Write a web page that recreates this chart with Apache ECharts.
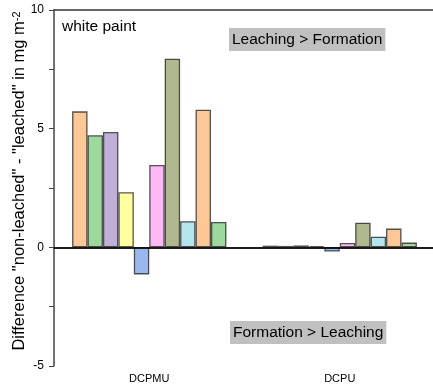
<!DOCTYPE html>
<html><head><meta charset="utf-8">
<script src="https://cdn.jsdelivr.net/npm/echarts@6/dist/echarts.min.js"></script>
<style>html,body{margin:0;padding:0;background:#fff}#c{width:433px;height:391px}</style>
</head><body><div id="c"></div>
<script>
const categories = ['DCPMU', 'DCPU'];
const s1 = [5.73, 0.07];
const s2 = [4.72, 0.06];
const s3 = [4.86, 0.08];
const s4 = [2.32, 0.05];
const s5 = [-1.14, -0.18];
const s6 = [3.47, 0.18];
const s7 = [7.95, 1.04];
const s8 = [1.10, 0.45];
const s9 = [5.80, 0.79];
const s10 = [1.07, 0.20];
const seriesValues = [s1, s2, s3, s4, s5, s6, s7, s8, s9, s10];
const colors = ['#FDC896', '#9DD89D', '#C0B0D8', '#FFFFA0', '#99B8F0', '#FDB8F8', '#B0B890', '#B4E4EC', '#FDC896', '#9DD89D'];
const yTicks = { min: -5, max: 10, interval: 5 };
const FONT = 'Liberation Sans, Arial, sans-serif';

const chart = echarts.init(document.getElementById('c'), null, { renderer: 'canvas' });
const series = seriesValues.map((vals, i) => ({
  type: 'bar',
  data: vals,
  barGap: '0%',
  barCategoryGap: '19%',
  itemStyle: { color: colors[i], borderColor: 'rgba(30,30,30,0.75)', borderWidth: 1.3 },
  markLine: i === 0 ? {
    silent: true, symbol: 'none', label: { show: false },
    lineStyle: { color: '#000', width: 1.5, type: 'solid' },
    data: [{ yAxis: 0 }]
  } : undefined
}));

chart.setOption({
  animation: false,
  grid: { left: 54, right: -2, top: 10, bottom: 25, containLabel: false, outerBoundsMode: 'none' },
  xAxis: [{
    type: 'category', data: categories, position: 'bottom',
    axisLine: { lineStyle: { color: '#444', width: 1.5 } },
    axisTick: { show: false },
    axisLabel: { color: '#000', fontSize: 11, fontFamily: FONT, margin: 7 }
  }, {
    type: 'category', data: categories, position: 'top',
    axisLine: { lineStyle: { color: '#333', width: 1.5 } },
    axisTick: { show: false }, axisLabel: { show: false }
  }],
  yAxis: {
    type: 'value', min: yTicks.min, max: yTicks.max, interval: yTicks.interval,
    axisLine: { show: true, lineStyle: { color: '#444', width: 1.5 } },
    axisTick: { show: true, length: 5, lineStyle: { color: '#444' } },
    minorTick: { show: true, splitNumber: 2, length: 5, lineStyle: { color: '#444' } },
    splitLine: { show: false },
    axisLabel: { color: '#000', fontSize: 12, fontFamily: FONT, margin: 10 },
    name: 'Difference "non-leached" - "leached" in mg m{sup|-2}',
    nameLocation: 'middle', nameGap: 26, nameRotate: 90, nameMoveOverlap: false,
    nameTextStyle: { color: '#000', fontSize: 16.5, fontFamily: FONT, padding: [0, 0, 0, 14],
      rich: { sup: { fontSize: 11, verticalAlign: 'top', lineHeight: 12, padding: [0, 0, 9, 0], fontFamily: FONT, color: '#000' } } }
  },
  series: series,
  graphic: [
    { type: 'text', left: 62, top: 19, style: { text: 'white paint', fontSize: 15.5, fontFamily: FONT, fill: '#000' } },
    { type: 'text', left: 229, top: 28, style: { text: 'Leaching > Formation', fontSize: 15.5, fontFamily: FONT, fill: '#000', backgroundColor: '#C0C0C0', padding: [4, 3, 3, 3] } },
    { type: 'text', left: 230, top: 321, style: { text: 'Formation > Leaching', fontSize: 15.5, fontFamily: FONT, fill: '#000', backgroundColor: '#C0C0C0', padding: [4, 3, 3, 3] } }
  ]
});
</script></body></html>
